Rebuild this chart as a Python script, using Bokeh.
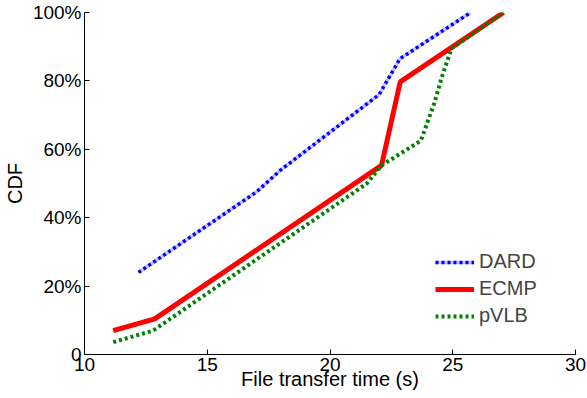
from bokeh.plotting import figure
from bokeh.models import FixedTicker, Legend, LegendItem, Range1d
from bokeh.embed import file_html
from bokeh.resources import INLINE

# Data (x: file transfer time in s, y: CDF in %)
dard_x = [12.2, 17.0, 18.0, 22.0, 22.85, 25.73]
dard_y = [24.0, 47.5, 54.0, 76.0, 86.5, 100.0]

ecmp_x = [11.17, 12.86, 22.1, 22.86, 27.07]
ecmp_y = [7.0, 10.4, 55.3, 79.7, 100.0]

pvlb_x = [11.17, 12.8, 21.5, 22.1, 23.7, 24.25, 24.55, 24.95, 27.07]
pvlb_y = [3.6, 7.0, 50.0, 55.3, 62.5, 73.5, 81.0, 89.5, 100.0]

x_ticks = [10, 15, 20, 25, 30]
y_ticks = [0, 20, 40, 60, 80, 100]
y_tick_labels = ["0", "20%", "40%", "60%", "80%", "100%"]

FONT = "Liberation Sans"

p = figure(width=587, height=398, output_backend="svg", toolbar_location=None,
           x_range=Range1d(10, 30), y_range=Range1d(0, 100),
           min_border_left=83, min_border_right=12, min_border_top=12,
           min_border_bottom=44)
p.outline_line_color = None
p.grid.grid_line_color = None
p.background_fill_color = "white"
p.border_fill_color = "white"

r_dard_bg = p.line(dard_x, dard_y, line_color="#c4c4ff", line_width=3.5)
r_dard = p.line(dard_x, dard_y, line_color="#0000ff", line_width=3.5, line_dash="3 3")
r_ecmp = p.line(ecmp_x, ecmp_y, line_color="#ff0000", line_width=5)
r_pvlb = p.line(pvlb_x, pvlb_y, line_color="#008000", line_width=4, line_dash="3 3")

for ax in (p.xaxis[0], p.yaxis[0]):
    ax.major_tick_in = 5
    ax.major_tick_out = 0
    ax.minor_tick_line_color = None
    ax.axis_line_color = "black"
    ax.major_tick_line_color = "black"
    ax.major_label_text_font = FONT
    ax.major_label_text_font_size = "19px"
    ax.major_label_text_color = "black"
    ax.axis_label_text_font = FONT
    ax.axis_label_text_font_size = "20px"
    ax.axis_label_text_font_style = "normal"
    ax.axis_label_text_color = "black"

p.xaxis.ticker = FixedTicker(ticks=x_ticks)
p.yaxis.ticker = FixedTicker(ticks=y_ticks)
p.yaxis.major_label_overrides = {t: l for t, l in zip(y_ticks, y_tick_labels)}
p.xaxis.axis_label = "File transfer time (s)"
p.yaxis.axis_label = "CDF"
p.xaxis.major_label_standoff = 3
p.xaxis.axis_label_standoff = -6
p.yaxis.major_label_standoff = 3
p.yaxis.axis_label_standoff = 4

legend = Legend(items=[
    LegendItem(label="DARD", renderers=[r_dard_bg, r_dard]),
    LegendItem(label="ECMP", renderers=[r_ecmp]),
    LegendItem(label="pVLB", renderers=[r_pvlb]),
], location=(351, 27))
legend.padding = 0
legend.margin = 0
legend.spacing = 4
legend.glyph_width = 39
legend.glyph_height = 20
legend.label_height = 20
legend.label_standoff = 5
legend.label_text_font = FONT
legend.label_text_font_size = "20px"
legend.border_line_alpha = 0
legend.background_fill_alpha = 0
p.add_layout(legend)

open("out.html", "w").write(file_html(p, INLINE))
